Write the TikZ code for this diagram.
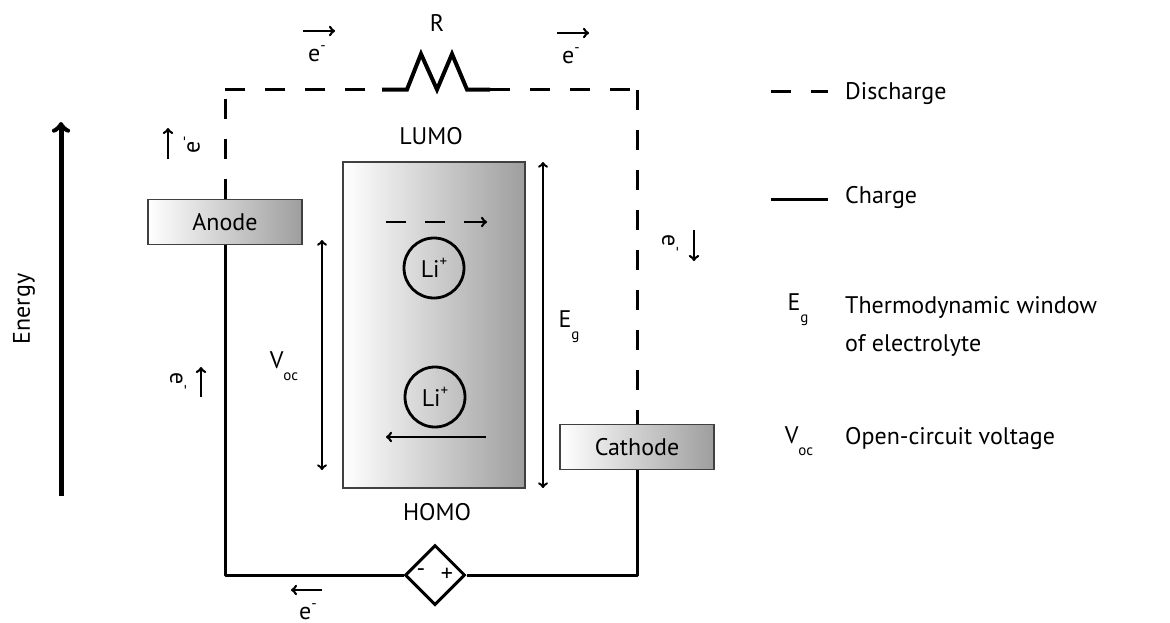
\documentclass[tikz,border=0pt]{standalone}
\usepackage{fontspec}
\setmainfont{PT Sans}
\usetikzlibrary{arrows,calc,positioning,shapes.geometric}
\newcommand{\lowsub}[1]{\raisebox{-0.5em}{\fontsize{15}{15}\selectfont #1}}
\newcommand{\charge}[1]{\raisebox{0.45em}{\fontsize{15}{15}\selectfont #1}}
\tikzset{
  lab/.style={inner sep=0pt,font=\fontsize{24}{38}\selectfont},
  wire/.style={line width=3pt},
  dashwire/.style={line width=3pt,dash pattern=on 20pt off 20pt},
  flow/.style={->,line width=2.6pt},
  span/.style={<->,line width=2.4pt},
  electrode/.style={draw=black!75,line width=1.4pt,left color=white,right color=black!38,
    minimum width=154pt,minimum height=45pt,inner sep=0pt,font=\fontsize{24}{38}\selectfont},
  ion/.style={circle,draw,line width=2.8pt,minimum size=60pt,inner sep=0pt,font=\fontsize{24}{38}\selectfont},
}
\begin{document}
\begin{tikzpicture}[x=1pt,y=-1pt,>=to]
    \useasboundingbox (0,0) rectangle (1170,622);
    % electrolyte window
    \node[draw=black!75,line width=1.4pt,left color=white,right color=black!38,
      minimum width=182pt,minimum height=326pt,inner sep=0pt] (window) at (434,325) {};
    \node[lab] (lumo) at (431,136) {LUMO};
    \node[lab] (homo) at (437,512) {HOMO};
    % electrodes and circuit
    \node[electrode] (anode) at (225,222) {Anode};
    \node[electrode] (cathode) at (637,447) {Cathode};
    \node[diamond,draw,fill=white,line width=3pt,minimum size=60pt,inner sep=0pt] (source) at (435,575) {};
    \node[lab] (minus) at (421,573) {-};
    \node[lab] (plus) at (447,575) {+};
    \coordinate (topl) at (225,89.5);
    \coordinate (topr) at (637,89.5);
    \coordinate (resl) at (382,89.5);
    \coordinate (resr) at (490,89.5);
    \coordinate (botl) at (225,575);
    \coordinate (botr) at (637,575);
    \draw[dashwire] (anode.north) -- (topl);
    \draw[dashwire] (topl) -- (resl);
    \draw[dashwire] (resr) -- (topr);
    \draw[dashwire] (topr) -- (cathode.north);
    \draw[line width=4pt,line join=miter] (resl) -- (407,89.5) -- (421,54) -- (437,89.5)
      -- (452,54) -- (467,89.5) -- (resr);
    \node[lab] (res) at (437,23) {R};
    \draw[wire,line join=round] (anode.south) -- (botl) -- (source.west);
    \draw[wire,line join=round] (cathode.south) -- (botr) -- (source.east);
    % ions
    \node[ion] (ionup) at (434,268) {Li\charge{+}};
    \node[ion] (iondown) at (435,397) {Li\charge{+}};
    \coordinate (dashl) at (386,222);
    \coordinate (dashr) at (487,222);
    \coordinate (soll) at (386,437);
    \coordinate (solr) at (486,437);
    \draw[->,line width=2.6pt,dash pattern=on 20pt off 19pt] (dashl) -- (dashr);
    \draw[flow] (solr) -- (soll);
    % voltage spans
    \coordinate (voctop) at (322,240);
    \coordinate (vocbot) at (322,470);
    \coordinate (egtop) at (543,162);
    \coordinate (egbot) at (543,488);
    \draw[span] (voctop) -- (vocbot);
    \draw[span] (egtop) -- (egbot);
    \node[lab] (voc) at (284,366) {V\lowsub{oc}};
    \node[lab] (eg) at (569,327) {E\lowsub{g}};
    % energy
    \coordinate (enbot) at (61,496);
    \coordinate (entop) at (61,122);
    \draw[->,line width=5pt] (enbot) -- (entop);
    \node[lab,rotate=90] (energy) at (24,309) {Energy};
    % electron arrows
    \coordinate (a1) at (303,31);   \coordinate (a2) at (335,31);
    \coordinate (b1) at (557,33);   \coordinate (b2) at (589,33);
    \coordinate (c1) at (168,159);  \coordinate (c2) at (168,128);
    \coordinate (d1) at (201,397);  \coordinate (d2) at (201,367);
    \coordinate (f1) at (694,230);  \coordinate (f2) at (694,261);
    \coordinate (g1) at (322,590);  \coordinate (g2) at (291,590);
    \foreach \p/\q in {a1/a2,b1/b2,c1/c2,d1/d2,f1/f2,g1/g2}
      \draw[flow] (\p) -- (\q);
    \node[lab] (ea) at (317,54) {e\charge{-}};
    \node[lab] (eb) at (571,56) {e\charge{-}};
    \node[lab,rotate=90] (ec) at (192,145) {e\charge{-}};
    \node[lab,rotate=-90] (ed) at (178,381) {e\charge{-}};
    \node[lab,rotate=-90] (ef) at (670,243) {e\charge{-}};
    \node[lab] (eg2) at (308,612) {e\charge{-}};
    % legend
    \coordinate (l1) at (771,91);   \coordinate (l2) at (828,91);
    \coordinate (l3) at (771,199);  \coordinate (l4) at (828,199);
    \draw[dashwire] (l1) -- (l2);
    \draw[wire] (l3) -- (l4);
    \node[lab,anchor=west] (discharge) at (845,94) {Discharge};
    \node[lab,anchor=west] (chargetxt) at (845,197) {Charge};
    \node[lab] (egkey) at (798,310) {E\lowsub{g}};
    \node[lab,anchor=west,align=left] (thermo) at (845,326) {Thermodynamic window\\of electrolyte};
    \node[lab] (vockey) at (799,441) {V\lowsub{oc}};
    \node[lab,anchor=west] (open) at (845,438) {Open-circuit voltage};
  \end{tikzpicture}
\end{document}
